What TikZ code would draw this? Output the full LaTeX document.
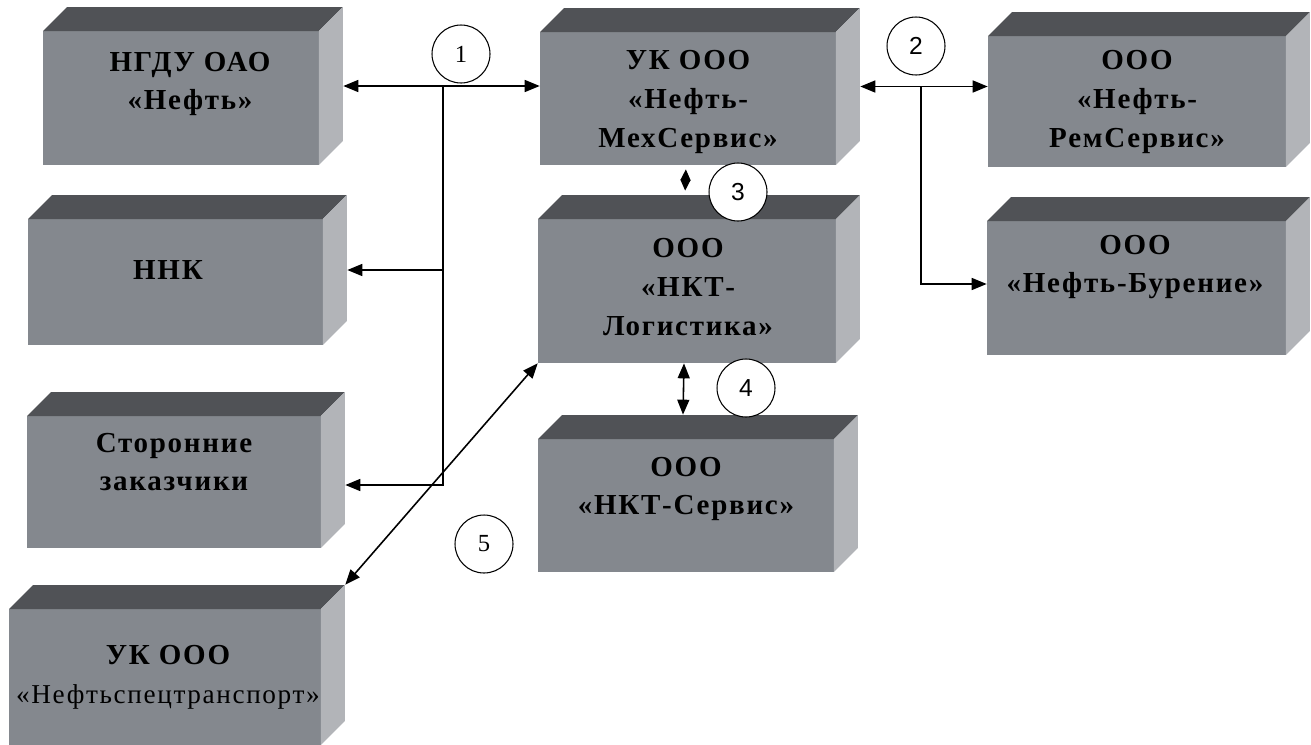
\documentclass[tikz,border=0pt]{standalone}
\usepackage{fontspec}
\setmainfont{Liberation Serif}
\newfontfamily\brfont[LetterSpace=6]{Liberation Serif}
\newfontfamily\numsans{Liberation Sans}
\usetikzlibrary{arrows.meta}
\definecolor{brfront}{RGB}{132,136,142}
\definecolor{brtop}{RGB}{80,82,86}
\definecolor{brside}{RGB}{178,180,184}
\def\brd{0.48cm}
\begin{document}
\begin{tikzpicture}[x=0.02cm,y=-0.02cm,
  brick/.style={inner sep=0pt,path picture={
    \fill[brfront] (path picture bounding box.south west) rectangle ([xshift=-\brd,yshift=-\brd]path picture bounding box.north east);
    \fill[brtop] ([yshift=-\brd]path picture bounding box.north west) -- ([xshift=\brd]path picture bounding box.north west)
      -- (path picture bounding box.north east) -- ([xshift=-\brd,yshift=-\brd]path picture bounding box.north east) -- cycle;
    \fill[brside] ([xshift=-\brd,yshift=-\brd]path picture bounding box.north east) -- (path picture bounding box.north east)
      -- ([yshift=\brd]path picture bounding box.south east) -- ([xshift=-\brd]path picture bounding box.south east) -- cycle;}},
  brtext/.style={align=center,font=\brfont\bfseries\fontsize{16.5}{22}\selectfont},
  num/.style={circle,draw,fill=white,line width=0.6pt,minimum size=1.16cm,inner sep=0pt,font=\fontsize{14}{14}\selectfont},
  link/.style={line width=0.9pt},
  biarrow/.style={link,{Triangle[length=0.3cm,width=0.24cm]}-{Triangle[length=0.3cm,width=0.24cm]}},
  toarrow/.style={link,-{Triangle[length=0.3cm,width=0.24cm]}}]
\useasboundingbox (0,0) rectangle (1311,744);

% left column
\node[brick,minimum width=6cm,minimum height=3.16cm] (ngdu) at (193,86) {};
\node[brick,minimum width=6.38cm,minimum height=3cm] (nnk) at (187.5,270) {};
\node[brick,minimum width=6.36cm,minimum height=3.12cm] (sto) at (186,470) {};
\node[brick,minimum width=6.72cm,minimum height=3.2cm] (nst) at (177,665) {};
% middle column
\node[brick,minimum width=6.4cm,minimum height=3.14cm] (uk) at (700,86.5) {};
\node[brick,minimum width=6.44cm,minimum height=3.36cm] (log) at (699,279) {};
\node[brick,minimum width=6.4cm,minimum height=3.14cm] (srv) at (698,493.5) {};
% right column
\node[brick,minimum width=6.44cm,minimum height=3.1cm] (rem) at (1149,89.5) {};
\node[brick,minimum width=6.46cm,minimum height=3.16cm] (bur) at (1148.5,276) {};

\node[brtext] (ngdutxt) at (190,84) {НГДУ ОАО\\«Нефть»};
\node[brtext] (nnktxt) at (168,270) {ННК};
\node[brtext] (stotxt) at (174,462) {Сторонние\\заказчики};
\node[brtext] (nsttxt) at (168,677) {УК ООО\\{\mdseries\fontsize{15.5}{22}\selectfont«Нефтьспецтранспорт»}};
\node[brtext] (uktxt) at (688,102) {УК ООО\\«Нефть-\\МехСервис»};
\node[brtext] (logtxt) at (688,287) {ООО\\«НКТ-\\Логистика»};
\node[brtext] (srvtxt) at (686,489) {ООО\\«НКТ-Сервис»};
\node[brtext] (remtxt) at (1137,102) {ООО\\«Нефть-\\РемСервис»};
\node[brtext] (burtxt) at (1135,267) {ООО\\«Нефть-Бурение»};

% connectors
\coordinate (j1) at (443,86);
\coordinate (j2) at (921,86.5);
\draw[biarrow] (ngdu.east) -- (ngdu.east -| uk.west);
\draw[toarrow] (j1) |- ([yshift=-0.3cm]sto.east);
\draw[toarrow] (j1 |- nnk.east) -- (nnk.east);
\draw[biarrow] (log.south west) -- (nst.north east);
\draw[link,shorten <=0.08cm,shorten >=0.08cm,{Triangle[length=0.22cm,width=0.2cm]}-{Triangle[length=0.22cm,width=0.2cm]}] ([xshift=-0.28cm]uk.south) -- ([xshift=-0.28cm]log.north);
\draw[biarrow] ([xshift=-0.3cm]log.south) -- ([xshift=-0.3cm]srv.north);
\draw[biarrow] (uk.east) -- (uk.east -| rem.west);
\draw[toarrow] (j2) |- ([yshift=-0.16cm]bur.west);

% numbers
\node[num] (n1) at (461,54) {1};
\node[num,font=\numsans\fontsize{14}{14}\selectfont] (n2) at (916,46) {2};
\node[num,font=\numsans\fontsize{14}{14}\selectfont] (n3) at (738,192) {3};
\node[num,font=\numsans\fontsize{14}{14}\selectfont] (n4) at (746,388) {4};
\node[num] (n5) at (484,544) {5};
\end{tikzpicture}
\end{document}
